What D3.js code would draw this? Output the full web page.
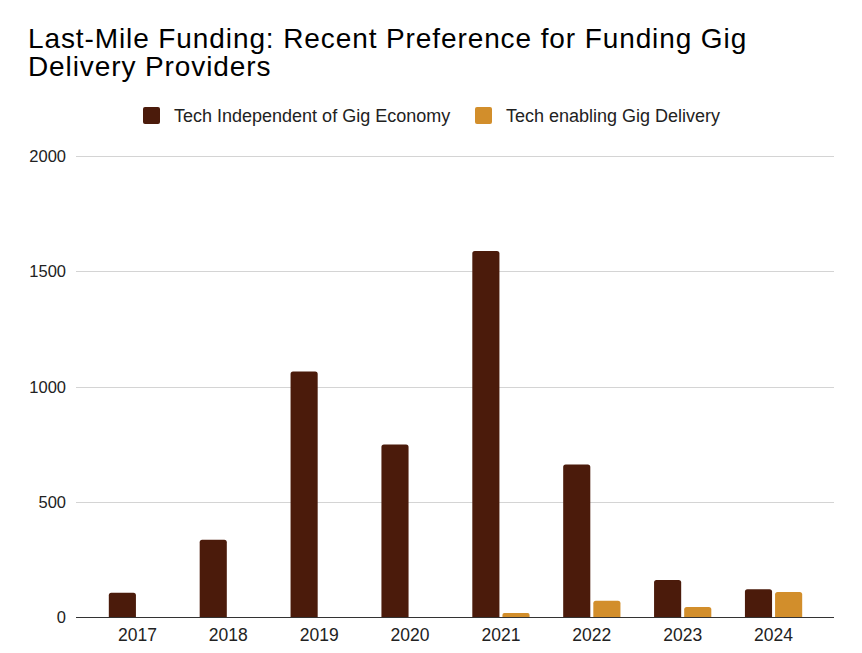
<!DOCTYPE html>
<html>
<head>
<meta charset="utf-8">
<script src="https://cdn.jsdelivr.net/npm/d3@7"></script>
<style>
  body { margin: 0; background: #fff; }
  svg { display: block; font-family: "Liberation Sans", Arial, sans-serif; }
</style>
</head>
<body>
<svg id="chart" width="862" height="653"></svg>
<script>
const years = ["2017", "2018", "2019", "2020", "2021", "2022", "2023", "2024"];
const seriesNames = ["Tech Independent of Gig Economy", "Tech enabling Gig Delivery"];
const independentValues = [105, 335, 1065, 748, 1588, 662, 160, 120];
const gigValues = [0, 0, 0, 0, 17, 70, 43, 109];
const yTicks = [0, 500, 1000, 1500, 2000];
const colors = ["#4b1b0b", "#d28e2b"];

const svg = d3.select("#chart");

// title
const title = svg.append("text")
  .attr("x", 28)
  .attr("font-size", "28px")
  .attr("letter-spacing", "0.9px")
  .attr("fill", "#000");
title.append("tspan").attr("x", 28).attr("y", 48).text("Last-Mile Funding: Recent Preference for Funding Gig");
title.append("tspan").attr("x", 28).attr("y", 76).text("Delivery Providers");

// legend
const legendItems = [
  {name: seriesNames[0], color: colors[0], x: 143},
  {name: seriesNames[1], color: colors[1], x: 475}
];
const legend = svg.append("g").attr("class", "legend");
legendItems.forEach(item => {
  legend.append("rect")
    .attr("x", item.x)
    .attr("y", 107)
    .attr("width", 17)
    .attr("height", 17)
    .attr("rx", 2)
    .attr("fill", item.color);
  legend.append("text")
    .attr("x", item.x + 31)
    .attr("y", 121.5)
    .attr("font-size", "18px")
    .attr("fill", "#222")
    .text(item.name);
});

const y = d3.scaleLinear()
  .domain([0, 2000])
  .range([617, 156]);

const x = d3.scaleBand()
  .domain(years)
  .range([92, 819]);

const xSub = d3.scaleBand()
  .domain(seriesNames)
  .range([x.bandwidth() * 0.185, x.bandwidth() * 0.815])
  .paddingInner(0.1);

// gridlines
svg.append("g")
  .selectAll("line")
  .data(yTicks.filter(d => d > 0))
  .join("line")
  .attr("x1", 76)
  .attr("x2", 834)
  .attr("y1", d => Math.round(y(d)) + 0.5)
  .attr("y2", d => Math.round(y(d)) + 0.5)
  .attr("stroke", "#d4d4d4")
  .attr("stroke-width", 1.2);

svg.append("g")
  .selectAll("text")
  .data(yTicks)
  .join("text")
  .attr("x", 66)
  .attr("y", d => y(d) + 6)
  .attr("text-anchor", "end")
  .attr("font-size", "16.5px")
  .attr("fill", "#222")
  .text(d => d);

// bars with rounded tops
function barPath(x0, w, yTop, yBase) {
  const r = Math.min(2.5, (yBase - yTop) / 2, w / 2);
  return `M${x0},${yBase}V${yTop + r}Q${x0},${yTop} ${x0 + r},${yTop}H${x0 + w - r}Q${x0 + w},${yTop} ${x0 + w},${yTop + r}V${yBase}Z`;
}

const rows = years.map((yr, i) => ({
  year: yr,
  values: [
    {key: seriesNames[0], value: independentValues[i], color: colors[0]},
    {key: seriesNames[1], value: gigValues[i], color: colors[1]}
  ]
}));

svg.append("g")
  .selectAll("g")
  .data(rows)
  .join("g")
  .attr("transform", d => `translate(${x(d.year)},0)`)
  .selectAll("path")
  .data(d => d.values.filter(v => v.value > 0))
  .join("path")
  .attr("d", d => barPath(xSub(d.key), xSub.bandwidth(), y(d.value), y(0)))
  .attr("fill", d => d.color);

// baseline
svg.append("line")
  .attr("x1", 76)
  .attr("x2", 834)
  .attr("y1", 617.5)
  .attr("y2", 617.5)
  .attr("stroke", "#333")
  .attr("stroke-width", 1.2);

// x labels
svg.append("g")
  .selectAll("text")
  .data(years)
  .join("text")
  .attr("x", d => x(d) + x.bandwidth() / 2)
  .attr("y", 641)
  .attr("text-anchor", "middle")
  .attr("font-size", "17.5px")
  .attr("fill", "#222")
  .text(d => d);
</script>
</body>
</html>
